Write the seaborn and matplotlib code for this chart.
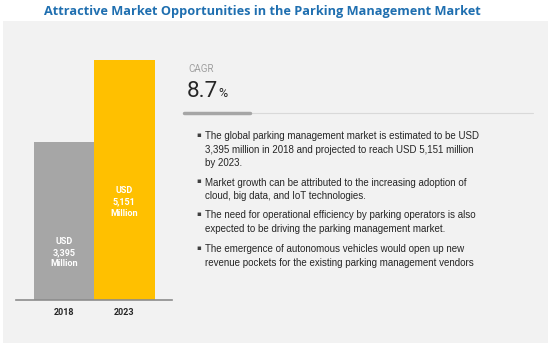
import matplotlib
matplotlib.use("Agg")
import matplotlib.pyplot as plt
import seaborn as sns
import pandas as pd
from matplotlib.patches import Rectangle
from matplotlib.lines import Line2D

years = ["2018", "2023"]
values = [3395, 5151]
bar_labels = ["USD\n3,395\nMillion", "USD\n5,151\nMillion"]
bar_colors = ["#a6a6a6", "#ffc000"]
title = "Attractive Market Opportunities in the Parking Management Market"
cagr_label = "CAGR"
cagr_value = "8.7"
bullets = [
    "The global parking management market is estimated to be USD\n3,395 million in 2018 and projected to reach USD 5,151 million\nby 2023.",
    "Market growth can be attributed to the increasing adoption of\ncloud, big data, and IoT technologies.",
    "The need for operational efficiency by parking operators is also\nexpected to be driving the parking management market.",
    "The emergence of autonomous vehicles would open up new\nrevenue pockets for the existing parking management vendors",
]

W, H = 550, 350
sns.set_theme(style="white")
plt.rcParams["font.family"] = ["Open Sans", "DejaVu Sans"]

fig = plt.figure(figsize=(W / 100, H / 100), dpi=100)
fig.patch.set_facecolor("white")

def fx(px):
    return px / W

def fy(py):
    return 1 - py / H

# background panel
fig.patches.append(Rectangle((fx(3), fy(343)), fx(545), (343 - 21) / H,
                             transform=fig.transFigure, facecolor="#f2f2f2",
                             edgecolor="none", zorder=-10))

# bar axes
ax = fig.add_axes([fx(16), fy(300), fx(172 - 16), (300 - 60) / H])
ax.set_facecolor("none")
ax.set_zorder(5)
df = pd.DataFrame({"year": years, "value": values})
sns.barplot(data=df, x="year", y="value", hue="year", palette=bar_colors,
            width=1.0, dodge=False, legend=False, ax=ax, saturation=1,
            linewidth=0, edgecolor="none")
ax.set_xlim(-0.8, 1.79)
ax.set_ylim(0, max(values))
ax.set_xlabel("")
ax.set_ylabel("")
ax.set_yticks([])
for s in ["top", "right", "left"]:
    ax.spines[s].set_visible(False)
ax.spines["bottom"].set_color("#8c8c8c")
ax.spines["bottom"].set_linewidth(1.2)
ax.tick_params(axis="x", length=0, pad=6, labelsize=6.5)
for t in ax.get_xticklabels():
    t.set_fontweight("bold")
    t.set_color("#262626")
    t.set_family(["Roboto", "DejaVu Sans"])
label_y = [values[0] * 0.30, values[1] * 0.41]
for i, (lab, yy) in enumerate(zip(bar_labels, label_y)):
    ax.text(i, yy, lab, ha="center", va="center", color="white",
            fontsize=6.5, fontweight="bold", family=["Roboto", "DejaVu Sans"],
            linespacing=1.35)

# title
fig.text(fx(262), fy(12), title, ha="center", va="center", fontsize=9.2,
         fontweight="bold", color="#1f6fb0")

# CAGR
fig.text(fx(188.5), fy(69.5), cagr_label, ha="left", va="center", fontsize=7,
         color="#a0a0a0", family=["Roboto", "DejaVu Sans"])
fig.text(fx(187), fy(97), cagr_value, ha="left", va="baseline", fontsize=16.2,
         color="#262626", family=["Roboto", "DejaVu Sans"])
fig.text(fx(218.5), fy(97), "%", ha="left", va="baseline", fontsize=9,
         color="#262626", family=["Roboto", "DejaVu Sans"])

# divider lines
fig.add_artist(Line2D([fx(184), fx(533)], [fy(113), fy(113)],
                      transform=fig.transFigure, color="#d9d9d9", lw=0.8))
fig.add_artist(Line2D([fx(184), fx(250)], [fy(113), fy(113)],
                      transform=fig.transFigure, color="#a6a6a6", lw=2.5))

# bullets
starts = [135, 181, 214, 248]
for b, y0 in zip(bullets, starts):
    fig.text(fx(196), fy(y0 + 0.5), "\u25aa", ha="left", va="center", fontsize=5,
             color="#404040")
    fig.text(fx(205), fy(y0 - 3.5), b, ha="left", va="top", fontsize=7.0,
             color="#262626", linespacing=1.4, family=["Liberation Sans", "DejaVu Sans"])

fig.savefig("out.png", dpi=100, facecolor="white")
